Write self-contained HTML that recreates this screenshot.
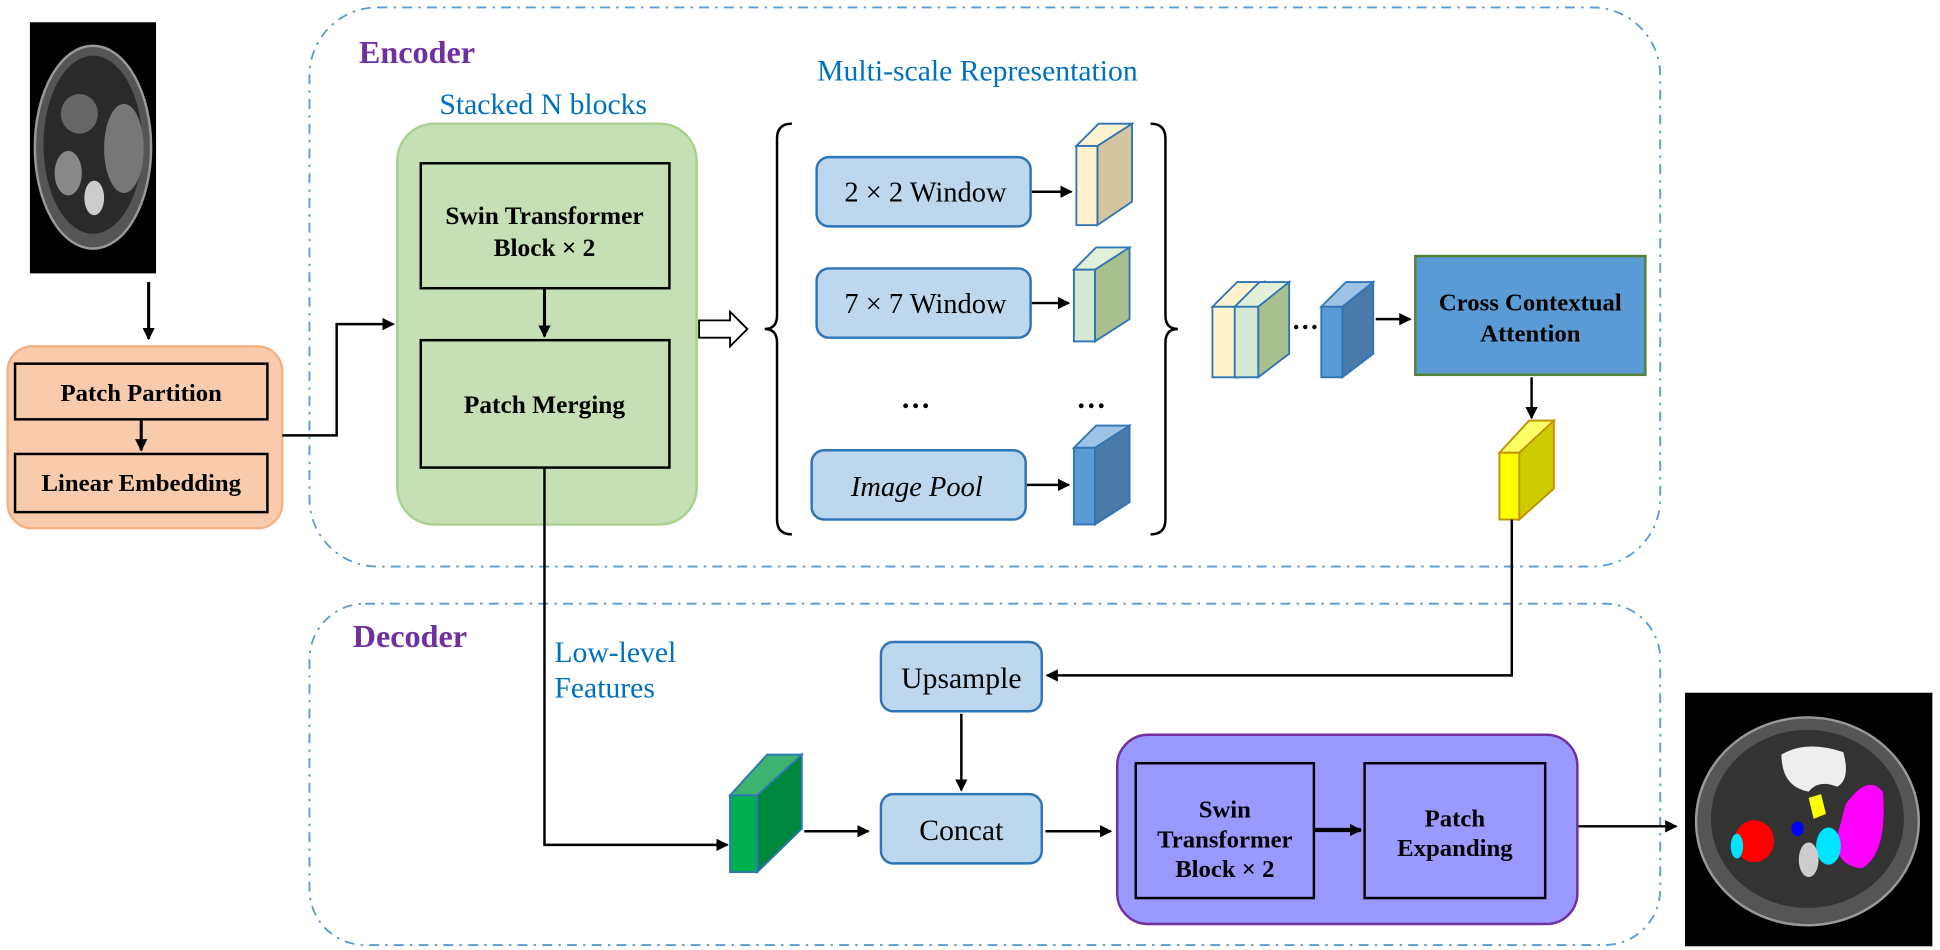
<!DOCTYPE html>
<html><head><meta charset="utf-8"><style>
html,body{margin:0;padding:0;background:#fff;}
svg{display:block}
.s{font-family:"Liberation Serif",serif;}
</style></head><body>
<svg width="1940" height="950" viewBox="0 0 1568 768" xmlns="http://www.w3.org/2000/svg" class="s">
<defs>
<marker id="a" markerWidth="10" markerHeight="10" refX="9" refY="5" orient="auto" markerUnits="userSpaceOnUse"><path d="M0,0 L10,5 L0,10z" fill="#000"/></marker>
</defs>
<!-- input CT -->
<rect x="24" y="18" width="102" height="203" fill="#000"/>
<ellipse cx="75" cy="119" rx="47" ry="82" fill="#555" stroke="#999" stroke-width="2"/>
<ellipse cx="75" cy="117" rx="40" ry="72" fill="#2a2a2a"/>
<ellipse cx="100" cy="120" rx="16" ry="36" fill="#777"/>
<ellipse cx="55" cy="140" rx="11" ry="18" fill="#888"/>
<ellipse cx="76" cy="160" rx="8" ry="14" fill="#ccc"/>
<ellipse cx="64" cy="92" rx="15" ry="16" fill="#666"/>
<line x1="120" y1="228" x2="120" y2="274" stroke="#000" stroke-width="2.5" marker-end="url(#a)"/>
<!-- orange -->
<rect x="6" y="280" width="222" height="147" rx="20" fill="#f8cbad" stroke="#f4b183" stroke-width="2"/>
<rect x="12" y="294" width="204" height="45" fill="none" stroke="#000" stroke-width="2"/>
<rect x="12" y="367" width="204" height="47" fill="none" stroke="#000" stroke-width="2"/>
<text x="114" y="324" text-anchor="middle" font-weight="bold" font-size="20">Patch Partition</text>
<text x="114" y="397" text-anchor="middle" font-weight="bold" font-size="20">Linear Embedding</text>
<line x1="114" y1="340" x2="114" y2="364" stroke="#000" stroke-width="2.5" marker-end="url(#a)"/>
<!-- encoder -->
<rect x="250" y="6" width="1092" height="452" rx="55" fill="none" stroke="#5b9bd5" stroke-width="1.5" stroke-dasharray="8,5,2,5"/>
<text x="290" y="51" font-weight="bold" font-size="26" fill="#7030a0">Encoder</text>
<text x="439" y="92" text-anchor="middle" font-size="24" fill="#0070c0">Stacked N blocks</text>
<rect x="321" y="100" width="242" height="324" rx="30" fill="#c5e0b4" stroke="#a9d18e" stroke-width="2"/>
<rect x="340" y="132" width="201" height="101" fill="none" stroke="#000" stroke-width="2"/>
<rect x="340" y="275" width="201" height="103" fill="none" stroke="#000" stroke-width="2"/>
<text x="440" y="181" text-anchor="middle" font-weight="bold" font-size="20.5">Swin Transformer</text>
<text x="440" y="207" text-anchor="middle" font-weight="bold" font-size="20.5">Block × 2</text>
<text x="440" y="334" text-anchor="middle" font-weight="bold" font-size="20.5">Patch Merging</text>
<line x1="440" y1="234" x2="440" y2="272" stroke="#000" stroke-width="2.5" marker-end="url(#a)"/>
<polyline points="228,352 272,352 272,262 318,262" fill="none" stroke="#000" stroke-width="2" marker-end="url(#a)"/>
<path d="M565,259 L590,259 L590,252 L604,266 L590,280 L590,273 L565,273z" fill="#fff" stroke="#000" stroke-width="1.5"/>
<text x="790" y="65" text-anchor="middle" font-size="24" fill="#0070c0">Multi-scale Representation</text>
<path d="M640,100 Q628,100 628,112 L628,255 Q628,266 618,266 Q628,266 628,277 L628,420 Q628,432 640,432" fill="none" stroke="#000" stroke-width="2"/>
<path d="M930,100 Q942,100 942,112 L942,255 Q942,266 952,266 Q942,266 942,277 L942,420 Q942,432 930,432" fill="none" stroke="#000" stroke-width="2"/>
<g fill="#bdd7ee" stroke="#2e75b6" stroke-width="2">
<rect x="660" y="127" width="173" height="56" rx="10"/>
<rect x="660" y="217" width="173" height="56" rx="10"/>
<rect x="656" y="364" width="173" height="56" rx="10"/>
</g>
<text x="748" y="163" text-anchor="middle" font-size="23">2 × 2 Window</text>
<text x="748" y="253" text-anchor="middle" font-size="23">7 × 7 Window</text>
<text x="741" y="401" text-anchor="middle" font-size="23" font-style="italic">Image Pool</text>
<text x="740" y="330" text-anchor="middle" font-size="24" font-weight="bold">…</text>
<text x="882" y="330" text-anchor="middle" font-size="24" font-weight="bold">…</text>
<line x1="834" y1="155" x2="866" y2="155" stroke="#000" stroke-width="2" marker-end="url(#a)"/>
<line x1="834" y1="245" x2="864" y2="245" stroke="#000" stroke-width="2" marker-end="url(#a)"/>
<line x1="830" y1="392" x2="864" y2="392" stroke="#000" stroke-width="2" marker-end="url(#a)"/>
<g stroke="#2e75b6" stroke-width="1.5">
<polygon points="870,118 888,100 915,100 897,118" fill="#fff2cc"/>
<polygon points="887,118 915,100 915,163 887,182" fill="#d4c5a0"/>
<rect x="870" y="118" width="17" height="64" fill="#fff2cc"/>
<polygon points="868,218 886,200 913,200 895,218" fill="#e2f0d9"/>
<polygon points="885,218 913,200 913,258 885,276" fill="#a9c08e"/>
<rect x="868" y="218" width="17" height="58" fill="#d5e8d4"/>
<polygon points="868,362 886,344 913,344 895,362" fill="#9dc3e6"/>
<polygon points="885,362 913,344 913,406 885,424" fill="#4a7aaa"/>
<rect x="868" y="362" width="17" height="62" fill="#5b9bd5"/>
<polygon points="980,248 1000,228 1022,228 1002,248" fill="#fff2cc"/>
<polygon points="1000,248 1022,228 1022,286 1000,305" fill="#d4c5a0"/>
<rect x="980" y="248" width="20" height="57" fill="#fff2cc"/>
<polygon points="998,248 1018,228 1042,228 1022,248" fill="#e2f0d9"/>
<polygon points="1017,248 1042,228 1042,286 1017,305" fill="#a9c08e"/>
<rect x="998" y="248" width="19" height="57" fill="#d5e8d4"/>
<polygon points="1068,248 1088,228 1110,228 1090,248" fill="#9dc3e6"/>
<polygon points="1085,248 1110,228 1110,286 1085,305" fill="#4a7aaa"/>
<rect x="1068" y="248" width="17" height="57" fill="#5b9bd5"/>
</g>
<text x="1055" y="266" text-anchor="middle" font-size="22" font-weight="bold">…</text>
<line x1="1112" y1="258" x2="1140" y2="258" stroke="#000" stroke-width="2" marker-end="url(#a)"/>
<rect x="1144" y="207" width="186" height="96" fill="#5b9bd5" stroke="#548235" stroke-width="2"/>
<text x="1237" y="251" text-anchor="middle" font-weight="bold" font-size="20">Cross Contextual</text>
<text x="1237" y="276" text-anchor="middle" font-weight="bold" font-size="20">Attention</text>
<line x1="1238" y1="305" x2="1238" y2="338" stroke="#000" stroke-width="2" marker-end="url(#a)"/>
<g stroke="#bf9000" stroke-width="1.5">
<polygon points="1212,366 1236,340 1256,340 1232,366" fill="#ffff66"/>
<polygon points="1228,366 1256,340 1256,395 1228,420" fill="#cccc00"/>
<rect x="1212" y="366" width="16" height="54" fill="#ffff00"/>
</g>
<!-- decoder -->
<rect x="250" y="488" width="1092" height="276" rx="45" fill="none" stroke="#5b9bd5" stroke-width="1.5" stroke-dasharray="8,5,2,5"/>
<text x="285" y="523" font-weight="bold" font-size="26" fill="#7030a0">Decoder</text>
<text x="448" y="535" font-size="24" fill="#0070c0">Low-level</text>
<text x="448" y="564" font-size="24" fill="#0070c0">Features</text>
<polyline points="1222,420 1222,546 846,546" fill="none" stroke="#000" stroke-width="2" marker-end="url(#a)"/>
<rect x="712" y="519" width="130" height="56" rx="10" fill="#bdd7ee" stroke="#2e75b6" stroke-width="2"/>
<rect x="712" y="642" width="130" height="56" rx="10" fill="#bdd7ee" stroke="#2e75b6" stroke-width="2"/>
<text x="777" y="556" text-anchor="middle" font-size="24">Upsample</text>
<text x="777" y="679" text-anchor="middle" font-size="24">Concat</text>
<line x1="777" y1="577" x2="777" y2="639" stroke="#000" stroke-width="2" marker-end="url(#a)"/>
<polyline points="440,378 440,683 588,683" fill="none" stroke="#000" stroke-width="2" marker-end="url(#a)"/>
<g stroke="#2e75b6" stroke-width="1.5">
<polygon points="590,643 620,610 648,610 618,643" fill="#3cb371"/>
<polygon points="612,643 648,610 648,670 612,705" fill="#00873e"/>
<rect x="590" y="643" width="22" height="62" fill="#00b050"/>
</g>
<line x1="650" y1="672" x2="702" y2="672" stroke="#000" stroke-width="2" marker-end="url(#a)"/>
<line x1="845" y1="672" x2="898" y2="672" stroke="#000" stroke-width="2" marker-end="url(#a)"/>
<rect x="903" y="594" width="372" height="153" rx="25" fill="#9999ff" stroke="#7030a0" stroke-width="2"/>
<rect x="918" y="617" width="144" height="109" fill="none" stroke="#000" stroke-width="2"/>
<rect x="1103" y="617" width="146" height="109" fill="none" stroke="#000" stroke-width="2"/>
<text x="990" y="661" text-anchor="middle" font-weight="bold" font-size="20">Swin</text>
<text x="990" y="685" text-anchor="middle" font-weight="bold" font-size="20">Transformer</text>
<text x="990" y="709" text-anchor="middle" font-weight="bold" font-size="20">Block × 2</text>
<text x="1176" y="668" text-anchor="middle" font-weight="bold" font-size="20">Patch</text>
<text x="1176" y="692" text-anchor="middle" font-weight="bold" font-size="20">Expanding</text>
<line x1="1063" y1="671" x2="1100" y2="671" stroke="#000" stroke-width="3.5" marker-end="url(#a)"/>
<line x1="1276" y1="668" x2="1355" y2="668" stroke="#000" stroke-width="2" marker-end="url(#a)"/>
<!-- output CT -->
<rect x="1362" y="560" width="200" height="205" fill="#000"/>
<ellipse cx="1461" cy="664" rx="90" ry="84" fill="#555" stroke="#999" stroke-width="2"/>
<ellipse cx="1461" cy="662" rx="78" ry="72" fill="#333"/>
<path d="M1440,610 Q1460,598 1490,608 Q1496,630 1485,636 Q1470,630 1462,640 Q1440,636 1440,610z" fill="#eee"/>
<path d="M1492,650 Q1510,625 1522,640 Q1526,690 1505,702 Q1485,700 1484,680z" fill="#ff00ff"/>
<ellipse cx="1418" cy="680" rx="16" ry="17" fill="#ff0000"/>
<ellipse cx="1404" cy="684" rx="5" ry="10" fill="#00e5ff"/>
<ellipse cx="1478" cy="684" rx="10" ry="15" fill="#00e5ff"/>
<ellipse cx="1453" cy="670" rx="5" ry="6" fill="#0000ff"/>
<path d="M1462,645 L1472,642 L1476,658 L1466,662 Z" fill="#ffff00"/>
<ellipse cx="1462" cy="695" rx="8" ry="14" fill="#ccc"/>
</svg>
</body></html>
